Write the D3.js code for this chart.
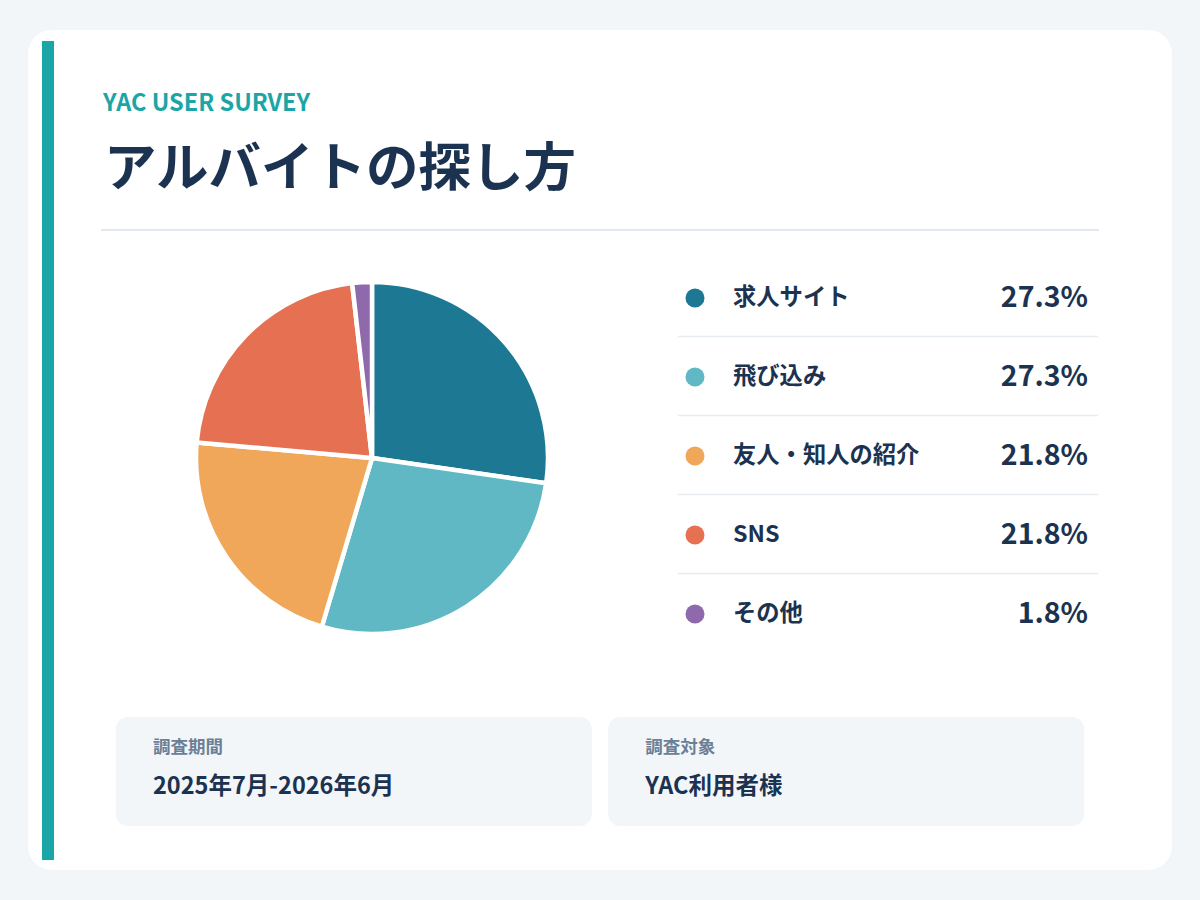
<!DOCTYPE html>
<html>
<head>
<meta charset="utf-8">
<script src="https://cdn.jsdelivr.net/npm/d3@7"></script>
<style>
  html, body { margin: 0; padding: 0; background: #f3f6f9; }
  svg { display: block; font-family: "Noto Sans CJK JP", "Noto Sans", sans-serif; }
</style>
</head>
<body>
<div id="chart"></div>
<script>
// chart data
var categories = ["求人サイト", "飛び込み", "友人・知人の紹介", "SNS", "その他"];
var shares = [27.3, 27.3, 21.8, 21.8, 1.8];
var colors = ["#1c7893", "#5fb8c4", "#f0a75a", "#e67052", "#8e6aad"];
var infoLabels = ["調査期間", "調査対象"];
var infoValues = ["2025年7月-2026年6月", "YAC利用者様"];

var WIDTH = 1200, HEIGHT = 900;
var ink = "#1b3350";

var svg = d3.select("#chart").append("svg")
  .attr("width", WIDTH)
  .attr("height", HEIGHT);

// background + card
svg.append("rect").attr("width", WIDTH).attr("height", HEIGHT).attr("fill", "#f3f6f9");
svg.append("rect")
  .attr("x", 28).attr("y", 30)
  .attr("width", 1144).attr("height", 840)
  .attr("rx", 24)
  .attr("fill", "#ffffff");
svg.append("rect")
  .attr("x", 42).attr("y", 41)
  .attr("width", 12).attr("height", 819)
  .attr("fill", "#1aa6a6");

// headings
svg.append("text")
  .attr("x", 103).attr("y", 111)
  .attr("font-size", 23.5).attr("font-weight", 700)
  .attr("fill", "#1aa6a6")
  .text("YAC USER SURVEY");
svg.append("text")
  .attr("x", 104).attr("y", 186)
  .attr("font-size", 52.5).attr("font-weight", 700)
  .attr("fill", ink)
  .text("アルバイトの探し方");
svg.append("line")
  .attr("x1", 101).attr("x2", 1099)
  .attr("y1", 230).attr("y2", 230)
  .attr("stroke", "#e2e8f0").attr("stroke-width", 2);

// pie
var pie = d3.pie().sort(null).value(function(d) { return d; });
var arc = d3.arc().innerRadius(0).outerRadius(176);
var color = d3.scaleOrdinal().domain(categories).range(colors);

var pieG = svg.append("g").attr("transform", "translate(372,458)");
pieG.selectAll("path")
  .data(pie(shares))
  .enter()
  .append("path")
  .attr("d", arc)
  .attr("fill", function(d, i) { return color(categories[i]); })
  .attr("stroke", "#ffffff")
  .attr("stroke-width", 4.5)
  .attr("stroke-linejoin", "round");

// legend
var rowY = d3.scalePoint().domain(categories).range([297, 613]);
var legend = svg.append("g");

legend.selectAll("line")
  .data(categories.slice(1))
  .enter()
  .append("line")
  .attr("x1", 678).attr("x2", 1098)
  .attr("y1", function(d) { return rowY(d) - 39.5; })
  .attr("y2", function(d) { return rowY(d) - 39.5; })
  .attr("stroke", "#e6ecf2").attr("stroke-width", 1.5);

var rows = legend.selectAll("g.row")
  .data(categories)
  .enter()
  .append("g")
  .attr("class", "row")
  .attr("transform", function(d) { return "translate(0," + rowY(d) + ")"; });

rows.append("circle")
  .attr("cx", 695).attr("cy", 1)
  .attr("r", 9.5)
  .attr("fill", function(d) { return color(d); });

rows.append("text")
  .attr("x", 733).attr("y", 8)
  .attr("font-size", 23.3).attr("font-weight", 700)
  .attr("fill", ink)
  .text(function(d) { return d; });

rows.append("text")
  .attr("x", 1088).attr("y", 10)
  .attr("text-anchor", "end")
  .attr("font-size", 28.5).attr("font-weight", 700)
  .attr("fill", ink)
  .text(function(d, i) { return d3.format(".1f")(shares[i]) + "%"; });

// info boxes
var boxX = d3.scaleBand().domain(infoLabels).range([116, 1084]).paddingInner(16 / 484);
var boxes = svg.selectAll("g.info")
  .data(infoLabels)
  .enter()
  .append("g")
  .attr("class", "info")
  .attr("transform", function(d) { return "translate(" + boxX(d) + ",717)"; });

boxes.append("rect")
  .attr("width", boxX.bandwidth()).attr("height", 109)
  .attr("rx", 12)
  .attr("fill", "#f3f6f9");

boxes.append("text")
  .attr("x", 37).attr("y", 36)
  .attr("font-size", 17.5).attr("font-weight", 700)
  .attr("fill", "#6b8096")
  .text(function(d) { return d; });

boxes.append("text")
  .attr("x", 37).attr("y", 77)
  .attr("font-size", 23.5).attr("font-weight", 700)
  .attr("fill", ink)
  .text(function(d, i) { return infoValues[i]; });
</script>
</body>
</html>
